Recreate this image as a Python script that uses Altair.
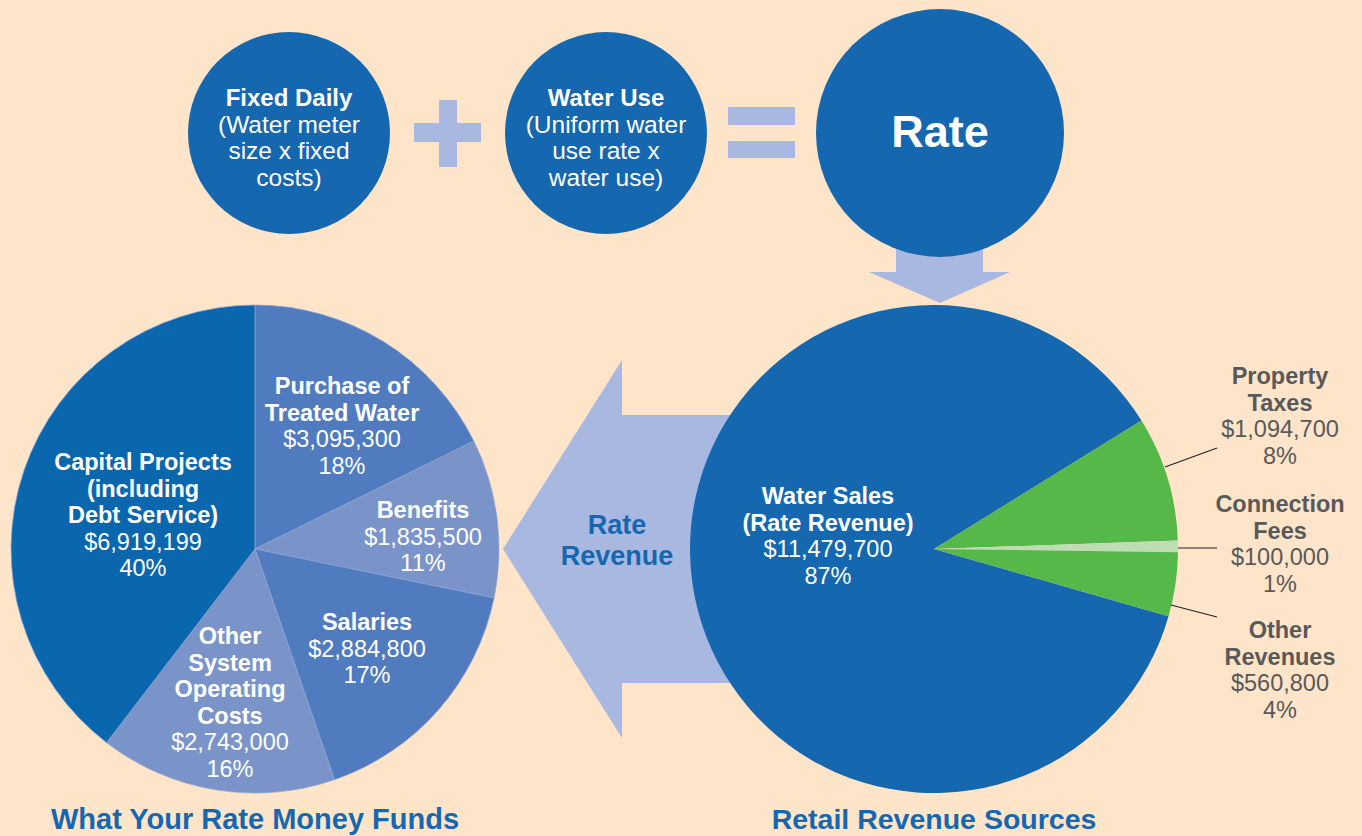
import math
import altair as alt
import pandas as pd

W, H = 1362, 836
FONT = "Liberation Sans"

# ---------------- data ----------------
fund_names = ["Purchase of Treated Water", "Benefits", "Salaries",
              "Other System Operating Costs", "Capital Projects (including Debt Service)"]
fund_values = [3095300, 1835500, 2884800, 2743000, 6919199]
fund_pcts = ["18%", "11%", "17%", "16%", "40%"]
fund_label_lines = [["Purchase of", "Treated Water"], ["Benefits"], ["Salaries"],
                    ["Other", "System", "Operating", "Costs"],
                    ["Capital Projects", "(including", "Debt Service)"]]

rev_names = ["Water Sales (Rate Revenue)", "Property Taxes", "Connection Fees", "Other Revenues"]
rev_values = [11479700, 1094700, 100000, 560800]
rev_pcts = ["87%", "8%", "1%", "4%"]
rev_label_lines = [["Water Sales", "(Rate Revenue)"], ["Property", "Taxes"],
                   ["Connection", "Fees"], ["Other", "Revenues"]]

formula_titles = ["Fixed Daily", "Water Use"]
formula_details = [["(Water meter", "size x fixed", "costs)"],
                   ["(Uniform water", "use rate x", "water use)"]]
result_title = "Rate"
arrow_title = ["Rate", "Revenue"]
chart_titles = ["What Your Rate Money Funds", "Retail Revenue Sources"]

# ---------------- layout / styles ----------------
BG = "#FEE5C9"
BLUE = "#1567B0"
ARROW = "#A9B8E0"
GRAY = "#58595B"
fund_colors = ["#507CBF", "#7A94CA", "#507CBF", "#7A94CA", "#0A67AE"]
rev_colors = [BLUE, "#55B848", "#BFDDB4", "#55B848"]
LEFT_C = (255, 549)
RIGHT_C = (934, 549)
PIE_R = 244
RIGHT_START_DEG = 106.0
LH = 26.6
fund_anchor = [(342, 387), (423, 511), (367, 623), (230, 637), (143, 463)]
rev_anchor = [(828, 497), (1280, 377), (1280, 505), (1280, 631)]
rev_text_colors = ["white", GRAY, GRAY, GRAY]
formula_centers = [(289, 133), (606, 133)]
formula_r = 101
result_center = (940, 133)
result_r = 124
title_pos = [(255, 820), (934, 820)]
arrow_text_pos = (617, 526)

# ---------------- tables ----------------
fund_df = pd.DataFrame({"name": fund_names, "value": fund_values,
                        "color": fund_colors, "idx": range(len(fund_names))})
rev_df = pd.DataFrame({"name": rev_names, "value": rev_values,
                       "color": rev_colors, "idx": range(len(rev_names))})

text_rows = []
def add_block(lines, value, pct, anchor, color):
    x, y = anchor
    for i, ln in enumerate(lines):
        text_rows.append({"x": x, "y": y + i * LH, "t": ln, "w": "bold", "c": color})
    n = len(lines)
    text_rows.append({"x": x, "y": y + n * LH, "t": f"${value:,}", "w": "normal", "c": color})
    text_rows.append({"x": x, "y": y + (n + 1) * LH, "t": pct, "w": "normal", "c": color})

for lines, v, p, a in zip(fund_label_lines, fund_values, fund_pcts, fund_anchor):
    add_block(lines, v, p, a, "white")
for lines, v, p, a, c in zip(rev_label_lines, rev_values, rev_pcts, rev_anchor, rev_text_colors):
    add_block(lines, v, p, a, c)
label_df = pd.DataFrame(text_rows)

formula_rows = []
for title, det, (cx, cy) in zip(formula_titles, formula_details, formula_centers):
    top = cy - 34
    formula_rows.append({"x": cx, "y": top, "t": title, "w": "bold"})
    for i, d in enumerate(det):
        formula_rows.append({"x": cx, "y": top + (i + 1) * 26.7, "t": d, "w": "normal"})
formula_df = pd.DataFrame(formula_rows)

circle_df = pd.DataFrame({
    "x": [formula_centers[0][0], formula_centers[1][0], result_center[0]],
    "y": [formula_centers[0][1], formula_centers[1][1], result_center[1]],
    "s": [(2 * formula_r) ** 2, (2 * formula_r) ** 2, (2 * result_r) ** 2],
})

rect_df = pd.DataFrame([
    {"x": 439, "x2": 457, "y": 100, "y2": 167},   # plus vertical
    {"x": 414, "x2": 481, "y": 123, "y2": 142},   # plus horizontal
    {"x": 728, "x2": 795, "y": 107, "y2": 125},   # equals top
    {"x": 728, "x2": 795, "y": 141, "y2": 158},   # equals bottom
    {"x": 896, "x2": 983, "y": 240, "y2": 273},   # down arrow shaft
    {"x": 621, "x2": 745, "y": 415, "y2": 683},   # left arrow shaft
])

tri_df = pd.DataFrame([
    {"id": "left", "x": 503, "y": 549, "y2": 549},
    {"id": "left", "x": 622, "y": 360, "y2": 738},
    {"id": "down", "x": 869, "y": 272, "y2": 272},
    {"id": "down", "x": 940, "y": 272, "y2": 303},
    {"id": "down", "x": 1010, "y": 272, "y2": 272},
])

leader_df = pd.DataFrame([
    {"x": 1165, "y": 467, "x2": 1217, "y2": 448},
    {"x": 1178, "y": 548, "x2": 1217, "y2": 548},
    {"x": 1171, "y": 605, "x2": 1217, "y2": 617},
])

misc_text_df = pd.DataFrame([
    {"x": result_center[0], "y": result_center[1], "t": result_title, "size": 45, "c": "white"},
    {"x": arrow_text_pos[0], "y": arrow_text_pos[1], "t": arrow_title[0], "size": 27, "c": BLUE},
    {"x": arrow_text_pos[0], "y": arrow_text_pos[1] + 31, "t": arrow_title[1], "size": 27, "c": BLUE},
    {"x": title_pos[0][0], "y": title_pos[0][1], "t": chart_titles[0], "size": 29, "c": BLUE},
    {"x": title_pos[1][0], "y": title_pos[1][1], "t": chart_titles[1], "size": 28.5, "c": BLUE},
])

# ---------------- helpers ----------------
def X(f="x"):
    return alt.X(f"{f}:Q", scale=None, axis=None)
def Y(f="y"):
    return alt.Y(f"{f}:Q", scale=None, axis=None)

# ---------------- layers ----------------
rects = alt.Chart(rect_df).mark_rect(color=ARROW).encode(
    x=X(), x2="x2:Q", y=Y(), y2="y2:Q")

tris = alt.Chart(tri_df).mark_area(color=ARROW, opacity=1).encode(
    x=X(), y=Y(), y2="y2:Q", detail="id:N")

circles = alt.Chart(circle_df).mark_point(shape="circle", filled=True, opacity=1,
                                          color=BLUE, strokeWidth=0).encode(
    x=X(), y=Y(), size=alt.Size("s:Q", scale=None, legend=None))

left_pie = alt.Chart(fund_df).mark_arc(radius=PIE_R, stroke="#8CA4D5", strokeWidth=0.7).encode(
    theta=alt.Theta("value:Q", stack=True, scale=alt.Scale(range=[0, 2 * math.pi])),
    color=alt.Color("color:N", scale=None, legend=None),
    order=alt.Order("idx:Q"),
    x=alt.value(LEFT_C[0]), y=alt.value(LEFT_C[1]))

rs = math.radians(RIGHT_START_DEG)
right_pie = alt.Chart(rev_df).mark_arc(radius=PIE_R).encode(
    theta=alt.Theta("value:Q", stack=True, scale=alt.Scale(range=[rs, rs + 2 * math.pi])),
    color=alt.Color("color:N", scale=None, legend=None),
    order=alt.Order("idx:Q"),
    x=alt.value(RIGHT_C[0]), y=alt.value(RIGHT_C[1]))

leaders = alt.Chart(leader_df).mark_rule(color="#231F20", strokeWidth=1.2).encode(
    x=X(), y=Y(), x2="x2:Q", y2="y2:Q")

def text_layer(df, weight, size):
    return alt.Chart(df).transform_filter(alt.datum.w == weight).mark_text(
        font=FONT, fontSize=size, fontWeight=weight, align="center", baseline="middle"
    ).encode(x=X(), y=Y(), text="t:N", color=alt.Color("c:N", scale=None, legend=None))

labels_bold = text_layer(label_df, "bold", 23.5)
labels_reg = text_layer(label_df, "normal", 23.5)

formula_bold = alt.Chart(formula_df).transform_filter(alt.datum.w == "bold").mark_text(
    font=FONT, fontSize=24, fontWeight="bold", color="white", align="center", baseline="middle"
).encode(x=X(), y=Y(), text="t:N")
formula_reg = alt.Chart(formula_df).transform_filter(alt.datum.w == "normal").mark_text(
    font=FONT, fontSize=24.5, color="white", align="center", baseline="middle"
).encode(x=X(), y=Y(), text="t:N")

misc_text = alt.Chart(misc_text_df).mark_text(
    font=FONT, fontWeight="bold", align="center", baseline="middle"
).encode(x=X(), y=Y(), text="t:N",
         size=alt.Size("size:Q", scale=None, legend=None),
         color=alt.Color("c:N", scale=None, legend=None))

chart = alt.layer(
    rects, tris, circles, left_pie, right_pie, leaders,
    labels_bold, labels_reg, formula_bold, formula_reg, misc_text
).resolve_scale(theta="independent").properties(
    width=W, height=H, padding=0, autosize="none", background=BG
).configure_view(strokeWidth=0)

chart.save("out.html", embed_options={"renderer": "svg", "actions": False})
